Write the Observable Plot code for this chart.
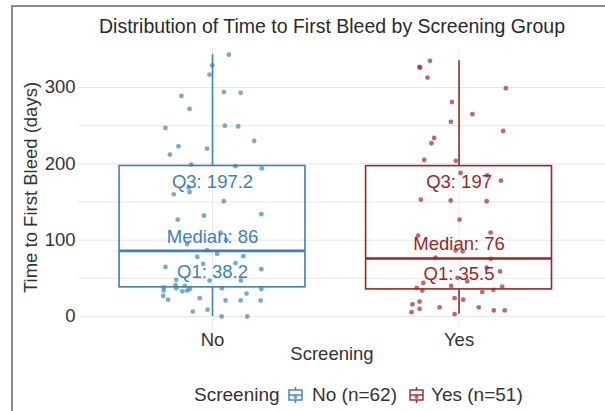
<!DOCTYPE html>
<html><head><meta charset="utf-8">
<script src="https://cdn.jsdelivr.net/npm/d3@7"></script>
<script src="https://cdn.jsdelivr.net/npm/@observablehq/plot@0.6"></script>
<style>
body{margin:0;background:#fff;font-family:"Liberation Sans",Arial,sans-serif;}
#wrap{position:relative;width:605px;height:411px;overflow:hidden;background:#fff;}
#frame{position:absolute;left:11px;top:5px;width:800px;height:600px;border-left:2px solid #8c8c8c;border-top:2px solid #8c8c8c;}
#title{position:absolute;top:15px;left:0;width:664px;text-align:center;font-size:19.5px;color:#2a2a2a;white-space:nowrap;}
#chart{position:absolute;left:0;top:40px;}
#legend{position:absolute;top:384px;left:194px;font-size:19px;color:#333;white-space:nowrap;height:22px;}
#legend span,#legend svg{position:absolute;top:0;}
</style></head>
<body><div id="wrap"><div id="frame"></div><div id="title">Distribution of Time to First Bleed by Screening Group</div><div id="chart"></div><div id="legend"></div></div>
<script>
const groups = ["No", "Yes"];
const legendLabels = ["No (n=62)", "Yes (n=51)"];
const colors = ["#3a7fc0", "#a02424"];
const q1 = [38.2, 35.5];
const median = [86, 76];
const q3 = [197.2, 197];
const whiskerLow = [0, 3];
const whiskerHigh = [343, 335];
const yTicks = [0, 100, 200, 300];
const gridTicks = [0, 50, 100, 150, 200, 250, 300];

// Time to first bleed (days) and horizontal jitter
const noTimes = [343,329,317,289,294,293,272,247,250,249,230,223,220,212,199,197,194,169,160,163,151,134,132,127,110,95,100,87,82,78,79,69,70,65,62,48,47,47,38,40,37,36,34,33,34,37,36,27,22,24,21,21,30,21,6.5,9,0,0,41];
const noJitter = [0.066,-0.001,-0.012,-0.126,0.046,0.114,-0.093,-0.191,0.050,0.104,0.169,-0.138,-0.022,-0.173,-0.086,0.093,0.200,-0.097,-0.157,-0.093,0.046,0.198,-0.035,-0.141,0.032,-0.103,0.056,-0.022,0.019,-0.062,0.125,-0.038,0.093,-0.191,0.198,-0.147,-0.012,0.115,-0.198,-0.112,-0.147,-0.092,-0.103,-0.123,-0.198,0.038,0.198,-0.200,-0.180,-0.052,0.053,0.114,0.138,0.195,-0.080,-0.020,0.037,0.141,-0.150];
const yesTimes = [335,327,326,313,299,281,265,255,243,234,227,205,204,188,185,178,153,152,151,127,106,110,86.5,85.5,77,75.6,64,59,50.7,46,44,40,37.6,34,39,35,32,24,22,16,19.6,10,5.7,12,12,8,8,3];
const yesJitter = [-0.118,-0.161,-0.158,-0.128,0.190,-0.029,0.054,-0.033,0.179,-0.101,-0.112,-0.141,-0.013,0.006,0.114,0.170,-0.155,-0.034,0.112,0.002,-0.166,0.128,-0.014,0.015,-0.095,0.128,0.112,0.166,-0.006,0.033,-0.145,-0.032,-0.172,-0.149,0.175,0.139,0.094,-0.018,0.017,-0.189,-0.160,-0.160,-0.193,-0.079,0.080,0.141,0.185,-0.018];

const boxes = groups.map((g, i) => ({g, i, q1: q1[i], med: median[i], q3: q3[i], lo: whiskerLow[i], hi: whiskerHigh[i], c: colors[i]}));
const points = [
  ...noTimes.map((t, k) => ({i: 0, t, j: noJitter[k], c: colors[0]})),
  ...yesTimes.map((t, k) => ({i: 1, t, j: yesJitter[k], c: colors[1]}))
];
const half = 0.377;
const fs = 18.5;

const chart = Plot.plot({
  width: 605, height: 330,
  marginLeft: 78, marginRight: 0, marginTop: 8, marginBottom: 44,
  style: {fontFamily: '"Liberation Sans", Arial, sans-serif', fontSize: fs + "px", color: "#333", background: "transparent"},
  x: {type: "linear", domain: [-0.5436, 1.594]},
  y: {domain: [-13.1, 351.1]},
  marks: [
    Plot.gridY(gridTicks, {stroke: "#e6e6e6", strokeOpacity: 1}),
    Plot.gridX([0, 1], {stroke: "#e9e9e9", strokeOpacity: 1}),
    Plot.axisY(yTicks, {tickSize: 0, tickPadding: 3, fontSize: fs, fill: "#333", label: "Time to First Bleed (days)", labelAnchor: "center", labelArrow: "none", labelOffset: 55}),
    Plot.axisX([0, 1], {tickSize: 0, tickPadding: 6, fontSize: fs, fill: "#333", tickFormat: i => groups[i], label: null}),
    Plot.text(["Screening"], {frameAnchor: "bottom", lineAnchor: "top", dy: 20, dx: -10, fontSize: fs, fill: "#333"}),
    Plot.ruleX(boxes, {x: "i", y1: "q3", y2: "hi", stroke: "c", strokeWidth: 1.6}),
    Plot.ruleX(boxes, {x: "i", y1: "lo", y2: "q1", stroke: "c", strokeWidth: 1.6}),
    Plot.rect(boxes, {x1: d => d.i - half, x2: d => d.i + half, y1: "q1", y2: "q3", fill: "none", stroke: "c", strokeWidth: 1.6}),
    Plot.ruleY(boxes, {y: "med", x1: d => d.i - half, x2: d => d.i + half, stroke: "c", strokeWidth: 2.6}),
    Plot.dot(points, {x: d => d.i + d.j, y: "t", r: 2.4, fill: "c", fillOpacity: 0.68, stroke: "none"}),
    Plot.text(boxes, {x: "i", y: "q3", text: d => `Q3: ${d.q3}`, dy: 16, fill: "c", fontSize: fs}),
    Plot.text(boxes, {x: "i", y: "med", text: d => `Median: ${d.med}`, dy: -14, fill: "c", fontSize: fs}),
    Plot.text(boxes, {x: "i", y: "q1", text: d => `Q1: ${d.q1}`, dy: -15, fill: "c", fontSize: fs})
  ]
});
document.getElementById("chart").appendChild(chart);

// legend
const legend = document.getElementById("legend");
const ns = "http://www.w3.org/2000/svg";
function addSpan(text, left) {
  const s = document.createElement("span");
  s.textContent = text; s.style.left = left + "px";
  legend.appendChild(s);
}
function addIcon(color, left) {
  const svg = document.createElementNS(ns, "svg");
  svg.setAttribute("width", 16); svg.setAttribute("height", 16);
  svg.style.left = left + "px"; svg.style.top = "3px";
  svg.innerHTML = `<rect x="1" y="3" width="13" height="10" fill="none" stroke="${color}" stroke-width="1.4"/>
  <line x1="1" x2="14" y1="8" y2="8" stroke="${color}" stroke-width="1.4"/>
  <line x1="7.5" x2="7.5" y1="0" y2="3" stroke="${color}" stroke-width="1.4"/>
  <line x1="7.5" x2="7.5" y1="13" y2="16" stroke="${color}" stroke-width="1.4"/>
  <circle cx="7.5" cy="10" r="2" fill="${color}" fill-opacity="0.7"/>`;
  legend.appendChild(svg);
}
addSpan("Screening", 0);
addIcon(colors[0], 94);
addSpan(legendLabels[0], 118);
addIcon(colors[1], 215);
addSpan(legendLabels[1], 237);
</script></body></html>
